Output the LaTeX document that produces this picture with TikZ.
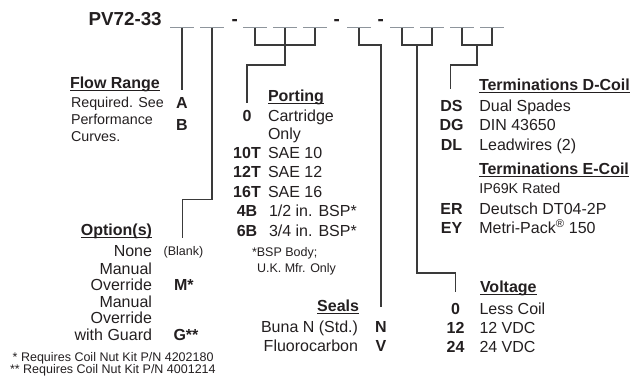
\documentclass[tikz,border=0pt]{standalone}
\usepackage{fontspec}
\setmainfont{Liberation Sans}
\usetikzlibrary{calc}
\definecolor{ink}{HTML}{231F20}
\definecolor{wire}{HTML}{3A3A3A}
\definecolor{blankline}{HTML}{8E959C}
\newcommand{\hd}[1]{\setbox0\hbox{\bfseries #1}\rlap{\rule[-2.9pt]{\wd0}{1.2pt}}\box0}

\begin{document}
\begin{tikzpicture}[x=1pt, y=-1pt, every node/.style={inner sep=0pt, outer sep=0pt, text=ink},
  txt/.style={font=\fontsize{16}{19}\selectfont},
  mid/.style={font=\fontsize{14.3}{17}\selectfont},
  small/.style={font=\fontsize{12.5}{15}\selectfont},
  code/.style={font=\fontsize{16}{19}\selectfont\bfseries, anchor=base},
  blank/.style={draw=blankline, line width=0.9pt},
  conn/.style={draw=wire, line width=1.3pt}]
\useasboundingbox (0,0) rectangle (634,376);

\node[font=\fontsize{18.8}{22}\selectfont\bfseries, anchor=base east] (title) at (161.7,25) {PV72-33};
\node[font=\fontsize{18.8}{22}\selectfont\bfseries, anchor=base] (dash1) at (234.8,25) {-};
\node[font=\fontsize{18.8}{22}\selectfont\bfseries, anchor=base] (dash2) at (336.7,25) {-};
\node[font=\fontsize{18.8}{22}\selectfont\bfseries, anchor=base] (dash3) at (380.8,25) {-};
\foreach \x/\n in {170/1,200/2,243/3,273/4,303/5,347/6,390/7,420/8,450/9,480/10} {
  \draw[blank] (\x,27.5) -- ++(24,0);
  \coordinate (b\n) at (\x+12,27.5);
}

\node[txt, anchor=base west] (flowhd) at (70,88) {\hd{Flow Range}};
\node[mid, anchor=base west] (flow1) at (71,107) {Required. See};
\node[mid, anchor=base west] (flow2) at (71,124) {Performance};
\node[mid, anchor=base west] (flow3) at (71,141.5) {Curves.};
\node[code] (fA) at (182,108) {A};
\node[code] (fB) at (182,130.5) {B};

\node[txt, anchor=base west] (porthd) at (268,101.5) {\hd{Porting}};
\node[code] (p0) at (247,121.5) {0};
\node[code] (p10) at (247,158.5) {10T};
\node[code] (p12) at (247,177.9) {12T};
\node[code] (p16) at (247,197.3) {16T};
\node[code] (p4) at (247,216.7) {4B};
\node[code] (p6) at (247,236.1) {6B};
\node[txt, anchor=base west] (pd0) at (268,121.5) {Cartridge};
\node[txt, anchor=base west] (pd0b) at (268,139) {Only};
\node[txt, anchor=base west] (pd10) at (268,158.5) {SAE 10};
\node[txt, anchor=base west] (pd12) at (268,177.9) {SAE 12};
\node[txt, anchor=base west] (pd16) at (268,197.3) {SAE 16};
\node[txt, anchor=base west] (pd4) at (269,216.7) {1/2 in. BSP*};
\node[txt, anchor=base west] (pd6) at (269,236.1) {3/4 in. BSP*};
\node[small, anchor=base west] (pnote1) at (252,256.5) {*BSP Body;};
\node[small, anchor=base west] (pnote2) at (257,272) {U.K. Mfr. Only};

\node[txt, anchor=base east] (opthd) at (152,235) {\hd{Option(s)}};
\node[txt, anchor=base east] (o1) at (152,256) {None};
\node[txt, anchor=base east] (o2a) at (152,274) {Manual};
\node[txt, anchor=base east] (o2b) at (152,290.5) {Override};
\node[txt, anchor=base east] (o3a) at (152,307) {Manual};
\node[txt, anchor=base east] (o3b) at (152,323.5) {Override};
\node[txt, anchor=base east] (o3c) at (152,340.5) {with Guard};
\node[small, anchor=base] (oBlank) at (183.5,255) {(Blank)};
\node[code, anchor=base west] (oM) at (174,290.5) {M*};
\node[code, anchor=base west] (oG) at (173.5,340.5) {G**};
\node[small, anchor=base west] (onote1) at (12.7,361.5) {* Requires Coil Nut Kit P/N 4202180};
\node[small, anchor=base west] (onote2) at (10,373) {** Requires Coil Nut Kit P/N 4001214};

\node[txt, anchor=base east] (sealhd) at (359,311.5) {\hd{Seals}};
\node[txt, anchor=base east] (s1) at (358,332.5) {Buna N (Std.)};
\node[txt, anchor=base east] (s2) at (358,351) {Fluorocarbon};
\node[code] (sN) at (381,332.5) {N};
\node[code] (sV) at (381,351) {V};

\node[txt, anchor=base west] (tdhd) at (479,90) {\hd{Terminations D-Coil}};
\node[code] (tDS) at (451.5,111.5) {DS};
\node[code] (tDG) at (451.5,130.8) {DG};
\node[code] (tDL) at (451.5,150) {DL};
\node[txt, anchor=base west] (td1) at (479.3,111.5) {Dual Spades};
\node[txt, anchor=base west] (td2) at (479.3,130.8) {DIN 43650};
\node[txt, anchor=base west] (td3) at (479.3,150) {Leadwires (2)};
\node[txt, anchor=base west] (tehd) at (479,174.5) {\hd{Terminations E-Coil}};
\node[mid, anchor=base west] (teip) at (479.3,193.5) {IP69K Rated};
\node[code] (tER) at (451.5,214) {ER};
\node[code] (tEY) at (451.5,233.5) {EY};
\node[txt, anchor=base west] (te1) at (479.3,214) {Deutsch DT04-2P};
\node[txt, anchor=base west] (te2) at (479.3,233.5) {Metri-Pack\textsuperscript{®} 150};

\node[txt, anchor=base west] (volthd) at (480,292.5) {\hd{Voltage}};
\node[code] (v0) at (455.5,314) {0};
\node[code] (v12) at (455.5,333) {12};
\node[code] (v24) at (455.5,352.5) {24};
\node[txt, anchor=base west] (vd0) at (479.5,314) {Less Coil};
\node[txt, anchor=base west] (vd12) at (479.5,333) {12 VDC};
\node[txt, anchor=base west] (vd24) at (479.5,352.5) {24 VDC};

\draw[conn, shorten >=6.5pt] (b1) -- (fA.north);
\draw[conn, shorten >=7.8pt] (b2) -- ++(0,172) -| ([xshift=-1pt]oBlank.north);
\draw[conn] (b3) -- ++(0,17.5) -| (b5);
\draw[conn, shorten >=7pt] (b4) -- ++(0,37.5) -| (p0.north);
\draw[conn, shorten >=15pt] (b6) -- ++(0,17.5) -| (sN.north);
\draw[conn] (b7) -- ++(0,17.5) -| (b8);
\draw[conn, shorten >=10.8pt] ($(b7)!.5!(b8)+(0,17.5)$) -- ++(0,228) -| (v0.north);
\draw[conn] (b9) -- ++(0,17.5) -| (b10);
\draw[conn, shorten >=11.7pt] ($(b9)!.5!(b10)+(0,17.5)$) -- ++(0,20) -| ([xshift=-0.8pt]tDS.north);
\end{tikzpicture}
\end{document}
